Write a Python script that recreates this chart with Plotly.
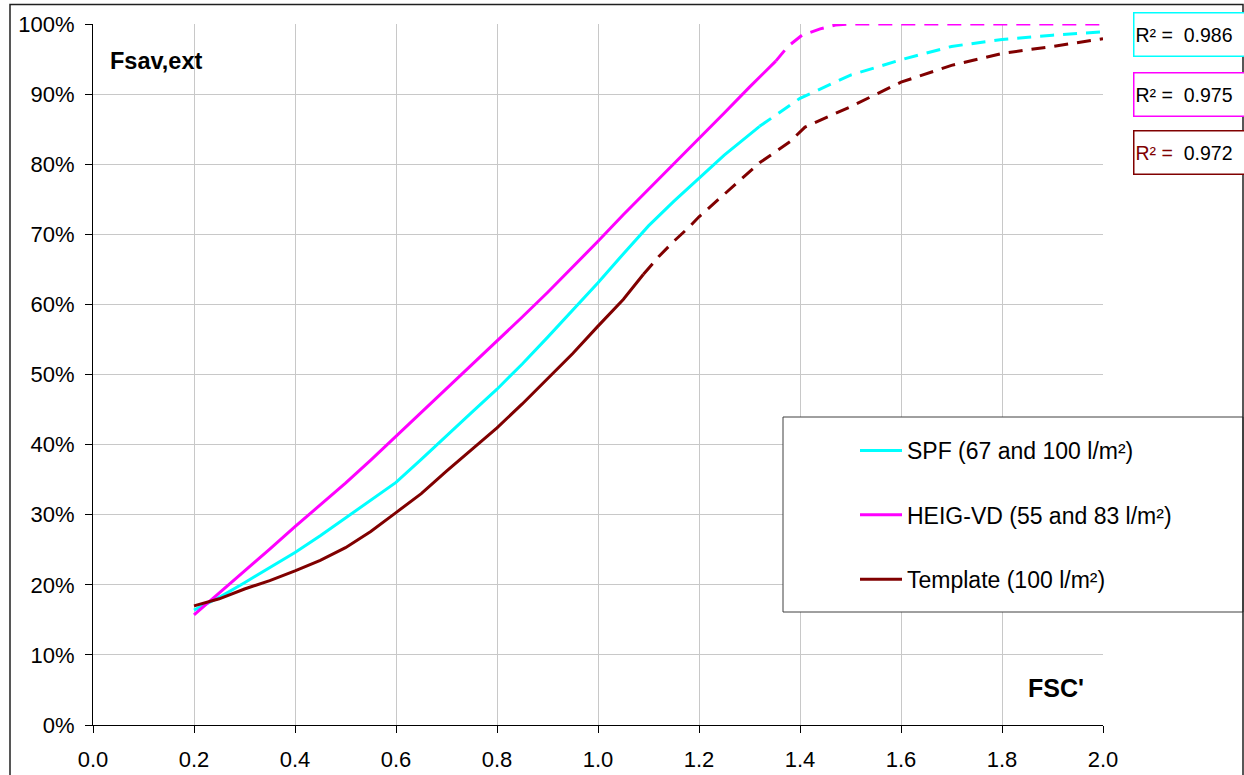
import plotly.graph_objects as go

# ---- data ----
spf_x = [0.2, 0.25, 0.3, 0.35, 0.4, 0.45, 0.5, 0.55, 0.6, 0.65, 0.7, 0.75, 0.8, 0.85,
         0.9, 0.95, 1.0, 1.05, 1.1, 1.15, 1.2, 1.25, 1.32]
spf_y = [0.164, 0.182, 0.203, 0.224, 0.246, 0.270, 0.295, 0.320, 0.346, 0.379, 0.413,
         0.446, 0.479, 0.515, 0.553, 0.592, 0.631, 0.672, 0.712, 0.747, 0.780, 0.813, 0.854]
spf_ext_x = [1.32, 1.4, 1.5, 1.6, 1.7, 1.8, 1.9, 2.0]
spf_ext_y = [0.854, 0.894, 0.927, 0.949, 0.968, 0.978, 0.984, 0.989]

heig_x = [0.2, 0.25, 0.3, 0.35, 0.4, 0.45, 0.5, 0.55, 0.6, 0.65, 0.7, 0.75, 0.8, 0.85,
          0.9, 0.95, 1.0, 1.05, 1.1, 1.15, 1.2, 1.25, 1.3, 1.352]
heig_y = [0.157, 0.188, 0.219, 0.251, 0.283, 0.314, 0.345, 0.378, 0.412, 0.446, 0.480,
          0.513, 0.547, 0.582, 0.617, 0.653, 0.690, 0.728, 0.764, 0.800, 0.837, 0.873,
          0.910, 0.947]
heig_ext_x = [1.352, 1.376, 1.404, 1.44, 1.47, 1.5, 1.6, 1.7, 1.8, 1.9, 2.0]
heig_ext_y = [0.947, 0.968, 0.984, 0.993, 0.9986, 1.0, 1.0, 1.0, 1.0, 1.0, 1.0]

tmpl_x = [0.2, 0.25, 0.3, 0.35, 0.4, 0.45, 0.5, 0.55, 0.6, 0.65, 0.7, 0.75, 0.8, 0.85,
          0.9, 0.95, 1.0, 1.05, 1.09]
tmpl_y = [0.170, 0.180, 0.194, 0.206, 0.220, 0.235, 0.253, 0.276, 0.303, 0.330, 0.362,
          0.393, 0.424, 0.458, 0.494, 0.530, 0.569, 0.607, 0.643]
tmpl_ext_x = [1.09, 1.12, 1.15, 1.18, 1.2, 1.27, 1.32, 1.38, 1.41, 1.5, 1.6, 1.7, 1.8, 1.9, 2.0]
tmpl_ext_y = [0.643, 0.668, 0.690, 0.710, 0.725, 0.770, 0.802, 0.832, 0.853, 0.882, 0.917,
              0.941, 0.958, 0.968, 0.979]

series_names = ["SPF (67 and 100 l/m²)", "HEIG-VD (55 and 83 l/m²)", "Template (100 l/m²)"]
r2_values = ["0.986", "0.975", "0.972"]
x_ticks = [0.0, 0.2, 0.4, 0.6, 0.8, 1.0, 1.2, 1.4, 1.6, 1.8, 2.0]
y_ticks = [0.0, 0.1, 0.2, 0.3, 0.4, 0.5, 0.6, 0.7, 0.8, 0.9, 1.0]

colors = ["#00FFFF", "#FF00FF", "#800000"]
FONT = "Liberation Sans, Arial, sans-serif"

W, H = 1244, 775
ML, MR, MT, MB = 93, 141, 24, 50
PW, PH = W - ML - MR, H - MT - MB


def px(xp):
    return (xp - ML) / PW


def py(yp):
    return (H - MB - yp) / PH


fig = go.Figure()

solid = [(spf_x, spf_y), (heig_x, heig_y), (tmpl_x, tmpl_y)]
ext = [(spf_ext_x, spf_ext_y), (heig_ext_x, heig_ext_y), (tmpl_ext_x, tmpl_ext_y)]

for i in range(3):
    fig.add_trace(go.Scatter(
        x=ext[i][0], y=ext[i][1], mode="lines", showlegend=False,
        line=dict(color=colors[i], width=3, dash="14px,9px"), hoverinfo="skip"))
for i in range(3):
    fig.add_trace(go.Scatter(
        x=solid[i][0], y=solid[i][1], mode="lines", name=series_names[i],
        legendgroup=f"g{i}", legendrank=i + 1,
        line=dict(color=colors[i], width=3)))

# legend box and outer chart border
fig.add_shape(type="rect", xref="paper", yref="paper",
              x0=px(783), x1=px(1243), y0=py(612), y1=py(417),
              line=dict(color="#404040", width=1), fillcolor="white", layer="above")
fig.add_shape(type="rect", xref="paper", yref="paper",
              x0=px(10), x1=px(1243), y0=py(790), y1=py(4.5),
              line=dict(color="#202020", width=1.5), fillcolor="rgba(0,0,0,0)", layer="above")

# R² boxes
box_centers = [35, 94, 152.5]
for i in range(3):
    if i == 2:
        txt = f"<span style='color:#800000'>R² =</span>\u00a0\u00a0{r2_values[i]}"
    else:
        txt = f"R² =\u00a0\u00a0{r2_values[i]}"
    fig.add_annotation(
        x=px(1133), y=py(box_centers[i]), xref="paper", yref="paper",
        xanchor="left", yanchor="middle", text=txt, showarrow=False,
        align="left", width=120, height=40, borderpad=1,
        bordercolor=colors[i], borderwidth=1.5, bgcolor="white",
        font=dict(family=FONT, size=19.5, color="black"))

# axis titles as in-plot labels
fig.add_annotation(x=px(108), y=py(61), xref="paper", yref="paper", xanchor="left",
                   yanchor="middle", text="<b>Fsav,ext</b>", showarrow=False,
                   font=dict(family=FONT, size=23.5, color="black"))
fig.add_annotation(x=px(1026), y=py(688), xref="paper", yref="paper", xanchor="left",
                   yanchor="middle", text="<b>FSC'</b>", showarrow=False,
                   font=dict(family=FONT, size=25, color="black"))

fig.update_layout(
    width=W, height=H,
    margin=dict(l=ML, r=MR, t=MT, b=MB, autoexpand=False),
    paper_bgcolor="white", plot_bgcolor="white",
    font=dict(family=FONT, size=22, color="black"),
    showlegend=True,
    legend=dict(x=px(855), y=py(429), xanchor="left", yanchor="top",
                bgcolor="rgba(0,0,0,0)", borderwidth=0,
                font=dict(family=FONT, size=23, color="black"),
                tracegroupgap=31.5, itemwidth=42, traceorder="grouped"),
)
fig.update_xaxes(range=[0, 2.0], tickvals=x_ticks, ticktext=[f"{v:.1f}" for v in x_ticks],
                 showgrid=True, gridcolor="#c8c8c8", gridwidth=1,
                 showline=True, linecolor="black", linewidth=1, automargin=False,
                 ticks="outside", ticklen=7, tickcolor="black", zeroline=False,
                 ticklabelstandoff=8,
                 tickfont=dict(family=FONT, size=22, color="black"))
fig.update_yaxes(range=[0, 1.0], tickvals=y_ticks, ticktext=[f"{int(round(v*100))}%" for v in y_ticks],
                 showgrid=True, gridcolor="#c8c8c8", gridwidth=1,
                 showline=True, linecolor="black", linewidth=1, automargin=False,
                 ticks="outside", ticklen=7, tickcolor="black", zeroline=False,
                 ticklabelstandoff=6,
                 tickfont=dict(family=FONT, size=22, color="black"))

fig.write_html("out.html")
